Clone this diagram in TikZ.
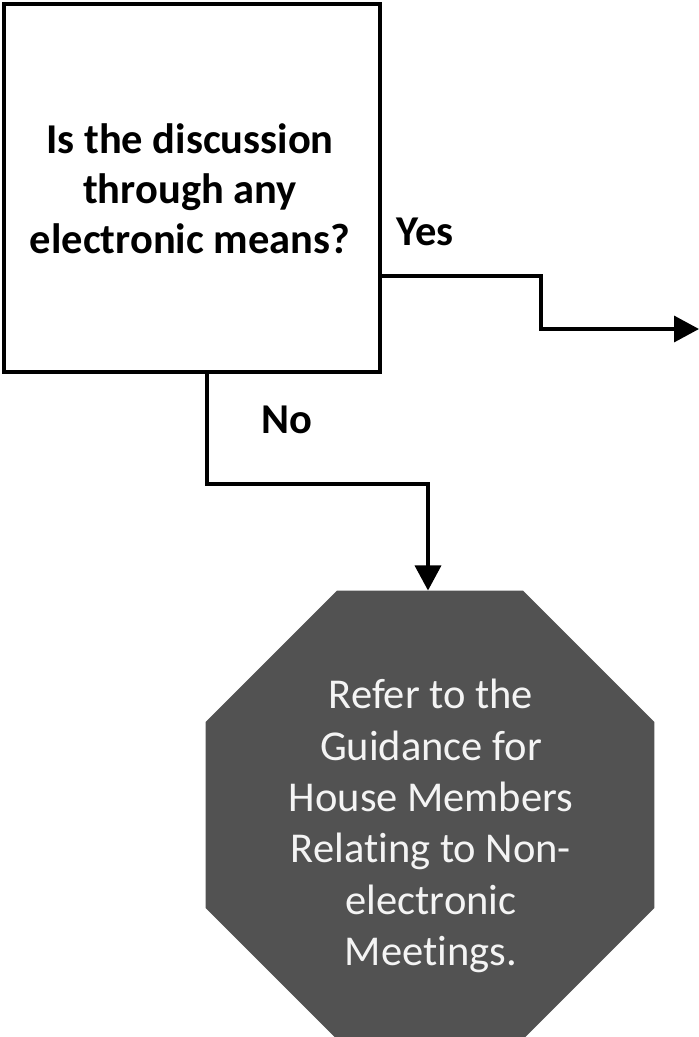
\documentclass[tikz,border=0pt]{standalone}
\usepackage{fontspec}
\setmainfont{Carlito}[Ligatures=NoCommon]
\usetikzlibrary{arrows.meta,shapes.geometric}
\definecolor{octfill}{HTML}{525252}
\definecolor{octtext}{HTML}{F4F4F4}
\begin{document}
\begin{tikzpicture}[x=1pt,y=-1pt,
  question/.style={draw=black,line width=4pt,fill=white,minimum width=376pt,
    minimum height=368pt,inner sep=0pt},
  qtext/.style={align=center,inner sep=0pt,
    font=\fontsize{42.5}{50}\selectfont\bfseries},
  stopsign/.style={regular polygon,regular polygon sides=8,fill=octfill,
    minimum size=486pt,inner sep=0pt,outer sep=0pt},
  stoptext/.style={align=center,inner sep=0pt,text=octtext,
    font=\fontsize{42.5}{51.4}\selectfont},
  flow/.style={line width=3.5pt,line join=miter},
  tip/.style={-{Triangle[length=25pt,width=26pt]}},
  answer/.style={font=\fontsize{42.5}{47}\selectfont\bfseries,inner sep=0pt}]
  \useasboundingbox (0,0) rectangle (699,1037);

  % decision box and its question
  \node[question] (q) at (192,188) {};
  \node[qtext] (qlabel) at (190,189)
    {Is the discussion\\through any\\electronic means?};

  % terminal octagon and its instruction
  \node[stopsign] (ref) at (430,815) {};
  \node[stoptext] (reflabel) at (431,826)
    {Refer to the\\Guidance for\\House Members\\Relating to Non-\\electronic\\Meetings.};

  % branch labels
  \node[answer] (yes) at (425,232) {Yes};
  \node[answer] (no) at (287,420) {No};

  % "Yes" branch leaves to the right
  \coordinate (yesend) at (699,329);
  \draw[flow,tip] (q.east |- 0,276) -- (541,276) |- (yesend);

  % "No" branch down to the octagon
  \draw[flow,tip] (q.south -| 207,0) -- (207,484) -| (ref.north -| 428,0);
\end{tikzpicture}
\end{document}
